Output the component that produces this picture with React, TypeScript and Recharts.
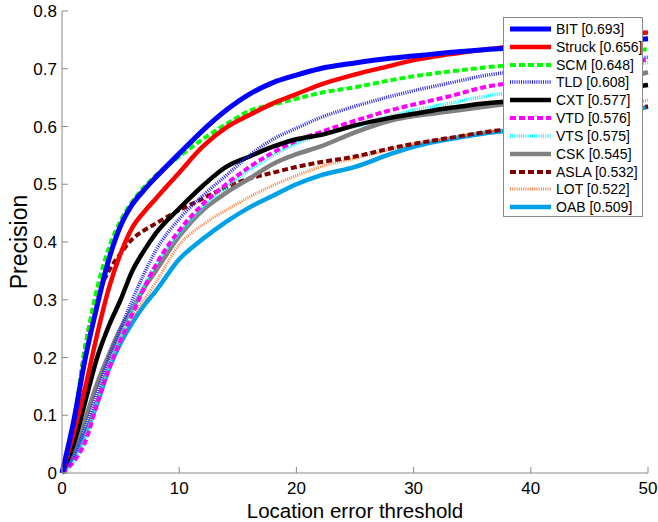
import { LineChart, Line, XAxis, YAxis, Legend } from "recharts";

// location error thresholds (pixels) at which the curves were read
const THRESHOLDS = [0, 1, 2, 3, 4, 5, 6, 7, 8, 10, 12, 14, 16, 18, 20, 22, 25, 28, 30, 33, 36, 40, 45, 50];

const BIT = [0, 0.09, 0.2, 0.29, 0.37, 0.428, 0.465, 0.49, 0.512, 0.553, 0.593, 0.628, 0.656, 0.676, 0.689, 0.7, 0.71, 0.718, 0.722, 0.728, 0.733, 0.738, 0.745, 0.752];
const STRUCK = [0, 0.07, 0.15, 0.24, 0.32, 0.38, 0.425, 0.452, 0.475, 0.52, 0.565, 0.598, 0.62, 0.64, 0.656, 0.672, 0.69, 0.705, 0.715, 0.725, 0.733, 0.742, 0.752, 0.763];
const SCM = [0, 0.09, 0.22, 0.32, 0.39, 0.437, 0.47, 0.495, 0.515, 0.548, 0.578, 0.604, 0.627, 0.638, 0.648, 0.658, 0.668, 0.68, 0.687, 0.695, 0.702, 0.71, 0.722, 0.734];
const TLD = [0, 0.03, 0.08, 0.14, 0.2, 0.25, 0.3, 0.345, 0.385, 0.44, 0.48, 0.515, 0.55, 0.578, 0.597, 0.615, 0.635, 0.652, 0.662, 0.675, 0.688, 0.698, 0.71, 0.72];
const CXT = [0, 0.05, 0.125, 0.2, 0.255, 0.3, 0.35, 0.385, 0.415, 0.458, 0.497, 0.53, 0.548, 0.565, 0.578, 0.585, 0.602, 0.615, 0.622, 0.632, 0.64, 0.646, 0.658, 0.672];
const VTD = [0, 0.02, 0.055, 0.12, 0.18, 0.23, 0.275, 0.32, 0.36, 0.42, 0.465, 0.5, 0.53, 0.555, 0.575, 0.59, 0.61, 0.628, 0.638, 0.652, 0.668, 0.68, 0.698, 0.716];
const VTS = [0, 0.02, 0.06, 0.125, 0.185, 0.235, 0.28, 0.325, 0.36, 0.415, 0.46, 0.495, 0.525, 0.55, 0.57, 0.585, 0.6, 0.618, 0.628, 0.64, 0.652, 0.665, 0.69, 0.711];
const CSK = [0, 0.04, 0.095, 0.155, 0.205, 0.25, 0.285, 0.32, 0.35, 0.41, 0.455, 0.485, 0.51, 0.535, 0.552, 0.565, 0.59, 0.61, 0.618, 0.626, 0.634, 0.645, 0.668, 0.694];
const ASLA = [0, 0.08, 0.22, 0.305, 0.35, 0.38, 0.405, 0.42, 0.432, 0.455, 0.475, 0.495, 0.51, 0.52, 0.53, 0.538, 0.548, 0.562, 0.57, 0.58, 0.59, 0.6, 0.615, 0.635];
const LOT = [0, 0.03, 0.07, 0.13, 0.19, 0.235, 0.27, 0.3, 0.33, 0.395, 0.43, 0.455, 0.478, 0.498, 0.515, 0.53, 0.545, 0.56, 0.57, 0.58, 0.59, 0.6, 0.62, 0.646];
const OAB = [0, 0.03, 0.07, 0.12, 0.18, 0.225, 0.26, 0.29, 0.315, 0.37, 0.405, 0.435, 0.46, 0.48, 0.5, 0.515, 0.53, 0.552, 0.565, 0.578, 0.588, 0.597, 0.615, 0.634];

const TRACKERS = ["BIT", "Struck", "SCM", "TLD", "CXT", "VTD", "VTS", "CSK", "ASLA", "LOT", "OAB"];
const SCORES = ["0.693", "0.656", "0.648", "0.608", "0.577", "0.576", "0.575", "0.545", "0.532", "0.522", "0.509"];
const SERIES = [BIT, STRUCK, SCM, TLD, CXT, VTD, VTS, CSK, ASLA, LOT, OAB];

const X_TICKS = [0, 10, 20, 30, 40, 50];
const Y_TICKS = [0, 0.1, 0.2, 0.3, 0.4, 0.5, 0.6, 0.7, 0.8];

const STYLES: Record<string, { color: string; width: number; dash?: string }> = {
    BIT: { color: "#0000ff", width: 5 },
    Struck: { color: "#ff0000", width: 4.5 },
    SCM: { color: "#00ff00", width: 4, dash: "6 3" },
    TLD: { color: "#2020ff", width: 3.5, dash: "1 1.2" },
    CXT: { color: "#000000", width: 4.5 },
    VTD: { color: "#ff00ff", width: 4, dash: "6 3" },
    VTS: { color: "#00ffff", width: 3.5, dash: "1 1.2" },
    CSK: { color: "#808080", width: 4.5 },
    ASLA: { color: "#800000", width: 4, dash: "6 3" },
    LOT: { color: "#ff8040", width: 3, dash: "1 1.2" },
    OAB: { color: "#00a0e8", width: 4.5 },
};

const data = THRESHOLDS.map((t, i) => {
    const row: Record<string, number> = { t };
    TRACKERS.forEach((name, k) => {
        row[name] = SERIES[k][i];
    });
    return row;
});

const AXIS = "#8a8a8a";
const TICK = 6;
const FONT = "'Liberation Sans', Arial, sans-serif";

// MATLAB-style inward ticks
const BottomTick = ({ x, y, payload }: any) => (
    <g>
        <line x1={x} x2={x} y1={y - 9} y2={y - 9 - TICK} stroke={AXIS} />
        <text x={x} y={y} dy="0.71em" textAnchor="middle" fontSize={17} fill="#000">
            {payload.value}
        </text>
    </g>
);

const TopTick = ({ x, y }: any) => <line x1={x} x2={x} y1={y} y2={y + TICK} stroke={AXIS} />;

const LeftTick = ({ x, y, payload }: any) => (
    <g>
        <line x1={x + 5} x2={x + 5 + TICK} y1={y} y2={y} stroke={AXIS} />
        <text x={x} y={y} dy="0.36em" textAnchor="end" fontSize={17} fill="#000">
            {String(payload.value)}
        </text>
    </g>
);

const RightTick = ({ x, y }: any) => <line x1={x} x2={x - TICK} y1={y} y2={y} stroke={AXIS} />;

function LegendBox() {
    return (
        <div
            style={{
                width: 140,
                height: 200,
                boxSizing: "border-box",
                border: `1px solid ${AXIS}`,
                background: "#fff",
                paddingTop: 2,
                fontFamily: FONT,
                fontSize: 14,
                color: "#000",
            }}
        >
            {TRACKERS.map((name, i) => {
                const s = STYLES[name];
                return (
                    <div key={name} style={{ height: 17.84, display: "flex", alignItems: "center" }}>
                        <svg width={52} height={10} style={{ flex: "none" }}>
                            <line
                                x1={6}
                                x2={47}
                                y1={5}
                                y2={5}
                                stroke={s.color}
                                strokeWidth={s.width}
                                strokeDasharray={s.dash}
                            />
                        </svg>
                        <span style={{ whiteSpace: "nowrap", lineHeight: "14px" }}>
                            {name} [{SCORES[i]}]
                        </span>
                    </div>
                );
            })}
        </div>
    );
}

export default function App() {
    return (
        <div style={{ position: "absolute", left: 0, top: 0, background: "#fff" }}>
            <LineChart
                width={658}
                height={522}
                data={data}
                margin={{ top: 11, right: 10, bottom: 0, left: 0 }}
                style={{ fontFamily: FONT }}
            >
                <XAxis
                    dataKey="t"
                    type="number"
                    domain={[0, 50]}
                    ticks={X_TICKS}
                    interval={0}
                    height={49}
                    tickSize={0}
                    tickMargin={9}
                    tickLine={false}
                    axisLine={{ stroke: AXIS }}
                    tick={<BottomTick />}
                    label={{
                        value: "Location error threshold",
                        position: "insideBottom",
                        offset: 4,
                        fontSize: 20.5,
                        fill: "#000",
                    }}
                />
                <XAxis
                    xAxisId="top"
                    orientation="top"
                    dataKey="t"
                    type="number"
                    domain={[0, 50]}
                    ticks={X_TICKS}
                    interval={0}
                    height={0}
                    tickSize={0}
                    tickMargin={0}
                    tickLine={false}
                    axisLine={{ stroke: AXIS }}
                    tick={<TopTick />}
                />
                <YAxis
                    type="number"
                    domain={[0, 0.8]}
                    ticks={Y_TICKS}
                    interval={0}
                    width={62}
                    tickSize={0}
                    tickMargin={5}
                    tickLine={false}
                    axisLine={{ stroke: AXIS }}
                    tick={<LeftTick />}
                    label={{
                        value: "Precision",
                        angle: -90,
                        position: "insideLeft",
                        offset: 18.5,
                        fontSize: 23,
                        fill: "#000",
                        style: { textAnchor: "middle" },
                    }}
                />
                <YAxis
                    yAxisId="right"
                    orientation="right"
                    type="number"
                    domain={[0, 0.8]}
                    ticks={Y_TICKS}
                    interval={0}
                    width={0}
                    tickSize={0}
                    tickMargin={0}
                    tickLine={false}
                    axisLine={{ stroke: AXIS }}
                    tick={<RightTick />}
                />
                {[...TRACKERS].reverse().map((name) => {
                    const s = STYLES[name];
                    return (
                        <Line
                            key={name}
                            type="monotone"
                            dataKey={name}
                            stroke={s.color}
                            strokeWidth={s.width}
                            strokeDasharray={s.dash}
                            dot={false}
                            activeDot={false}
                            isAnimationActive={false}
                        />
                    );
                })}
                <Legend
                    layout="vertical"
                    align="center"
                    verticalAlign="middle"
                    wrapperStyle={{ left: 503, top: 17, width: 140, height: 200 }}
                    content={<LegendBox />}
                />
            </LineChart>
        </div>
    );
}
